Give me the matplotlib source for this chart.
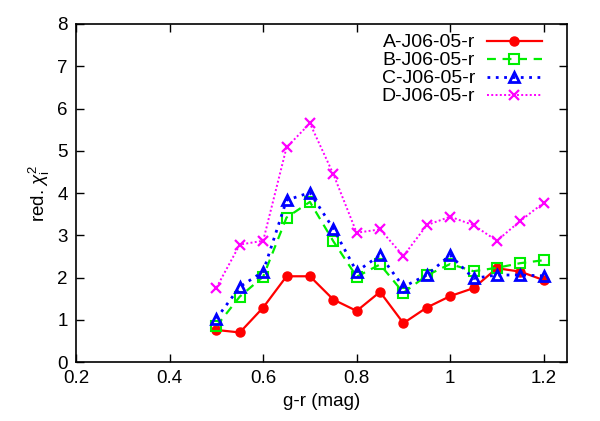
import matplotlib
matplotlib.use('Agg')
import matplotlib.pyplot as plt

plt.rcParams['font.family'] = ['Liberation Sans', 'DejaVu Sans']
plt.rcParams['mathtext.fontset'] = 'custom'
plt.rcParams['mathtext.rm'] = 'Liberation Sans'
plt.rcParams['mathtext.it'] = 'Liberation Sans:italic'

# g-r colour bins
gr = [0.5, 0.55, 0.6, 0.65, 0.7, 0.75, 0.8, 0.85, 0.9, 0.95, 1.0, 1.05, 1.1, 1.15, 1.2]

# reduced chi^2 per series
chi_a = [0.76, 0.70, 1.29, 2.03, 2.03, 1.48, 1.21, 1.66, 0.92, 1.29, 1.56, 1.75, 2.22, 2.14, 1.94]
chi_b = [0.85, 1.55, 2.02, 3.42, 3.79, 2.86, 2.02, 2.31, 1.64, 2.05, 2.32, 2.15, 2.23, 2.34, 2.41]
chi_c = [1.03, 1.78, 2.14, 3.83, 4.01, 3.16, 2.14, 2.53, 1.78, 2.06, 2.53, 1.98, 2.06, 2.06, 2.04]
chi_d = [1.76, 2.78, 2.87, 5.08, 5.65, 4.45, 3.06, 3.14, 2.51, 3.24, 3.44, 3.24, 2.87, 3.34, 3.77]

labels = ['A-J06-05-r', 'B-J06-05-r', 'C-J06-05-r', 'D-J06-05-r']

fig = plt.figure(figsize=(6, 4.21), dpi=100)
ax = fig.add_axes([0.127, 0.140, 0.818, 0.803])

ax.plot(gr, chi_a, color='#ff0000', lw=1.6, marker='o', ms=6.5, label=labels[0])
ax.plot(gr, chi_b, color='#00ee00', lw=1.6, ls=(0, (4, 3)), marker='s', ms=7,
        mfc='none', mew=1.5, label=labels[1])
ax.plot(gr, chi_c, color='#0000ff', lw=2, ls=(0, (1, 2)), marker='^', ms=7.5,
        mfc='none', mew=2, label=labels[2])
ax.plot(gr, chi_d, color='#ff00ff', lw=1.4, ls=(0, (1, 1.2)), marker='x', ms=7.5,
        mew=1.6, label=labels[3])

ax.set_xlim(0.2, 1.25)
ax.set_ylim(0, 8)
ax.set_xticks([0.2, 0.4, 0.6, 0.8, 1.0, 1.2])
ax.set_xticklabels(['0.2', '0.4', '0.6', '0.8', '1', '1.2'])
ax.set_yticks(range(0, 9))
ax.tick_params(direction='in', top=True, right=True, length=6, width=1, labelsize=13.5, pad=6)
for s in ax.spines.values():
    s.set_linewidth(1.2)

ax.set_xlabel('g-r (mag)', fontsize=13.5)
ax.set_ylabel(r'red. $\chi_{\rm i}^{2}$', fontsize=13.5)

ax.legend(loc='upper right', bbox_to_anchor=(0.965, 0.994), frameon=False,
          markerfirst=False, fontsize=14, handlelength=2.85, labelspacing=0.02,
          borderaxespad=0, handletextpad=0.6)

fig.savefig('out.png', dpi=100)
